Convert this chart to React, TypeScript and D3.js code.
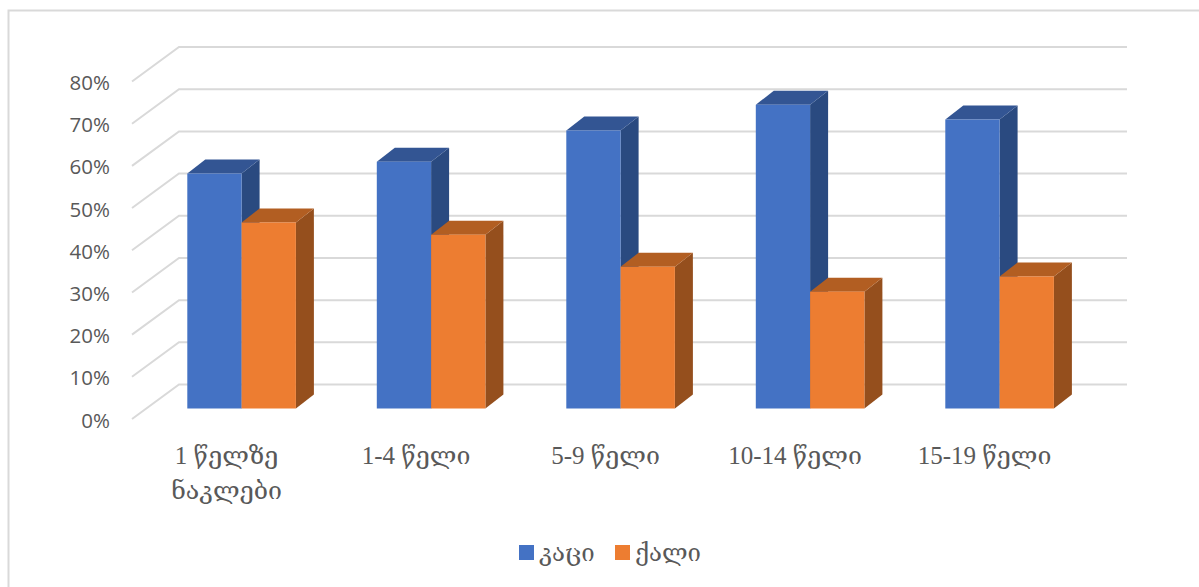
import React from "react";
import * as d3 from "d3";

const categories: string[][] = [["1 წელზე", "ნაკლები"], ["1-4 წელი"], ["5-9 წელი"], ["10-14 წელი"], ["15-19 წელი"]];
const seriesNames = ["კაცი", "ქალი"];
const men = [55.7, 58.5, 65.9, 72, 68.5];
const women = [44.1, 41.2, 33.6, 27.7, 31.3];
const ticks = [0, 10, 20, 30, 40, 50, 60, 70, 80];
const tickFormat = (d: number) => `${d}%`;

const W = 1199, H = 587;
const depthX = 18, depthY = 14;
const y = d3.scaleLinear().domain([0, 80]).range([408.5, 71]);
const x = d3.scaleBand<number>().domain(d3.range(5)).range([146.85, 1094.35]).paddingInner(0).paddingOuter(0);
const barW = 54.3;
const barLeft = (i: number) => (x(i) as number) + x.bandwidth() / 2 - barW;
const serif = "'Liberation Serif','DejaVu Serif',serif";
const sans = "'Open Sans',sans-serif";
const text = "#595959";
const grid = "#d9d9d9";

function Bar({ x0, v, front, top, side }: { x0: number; v: number; front: string; top: string; side: string }) {
  const y0 = y(0), y1 = y(v), x1 = x0 + barW;
  return (
    <g>
      <path d={`M${x1},${y1}L${x1 + depthX},${y1 - depthY}L${x1 + depthX},${y0 - depthY}L${x1},${y0}Z`} fill={side} />
      <path d={`M${x0},${y1}L${x0 + depthX},${y1 - depthY}L${x1 + depthX},${y1 - depthY}L${x1},${y1}Z`} fill={top} />
      <rect x={x0} y={y1} width={barW} height={y0 - y1} fill={front} />
    </g>
  );
}

export default function App() {
  return (
    <svg width={W} height={H} style={{ position: "absolute", left: 0, top: 0, background: "#fff" }}>
      <path d={`M8.5,${H}L8.5,10.5L${W},10.5`} fill="none" stroke={grid} strokeWidth={2} />
      {ticks.map((t) => {
        const yFront = y(t) + 10.5;
        const yBack = y(t) - depthY - 10;
        return (
          <g key={t}>
            <path d={`M132,${yFront}L179,${yBack}L1127,${yBack}`} fill="none" stroke={grid} strokeWidth={2} />
            <text x={110} y={yFront + 8.5} textAnchor="end" fontFamily={sans} fontSize={20.5} fill={text}>
              {tickFormat(t)}
            </text>
          </g>
        );
      })}
      {categories.map((c, i) => (
        <g key={i}>
          <Bar x0={barLeft(i)} v={men[i]} front="#4472c4" top="#335593" side="#2a4a80" />
          <Bar x0={barLeft(i) + barW} v={women[i]} front="#ed7d31" top="#b25e22" side="#954f1d" />
          {c.map((line, j) => (
            <text key={j} x={barLeft(i) + barW - 15} y={463.5 + j * 35} textAnchor="middle" fontFamily={serif} fontSize={25} fill={text}>
              {line}
            </text>
          ))}
        </g>
      ))}
      {seriesNames.map((s, i) => (
        <g key={s}>
          <rect x={519 + i * 96} y={545} width={15} height={15} fill={i === 0 ? "#4472c4" : "#ed7d31"} />
          <text x={539 + i * 96} y={561} fontFamily={serif} fontSize={24} fill={text}>
            {s}
          </text>
        </g>
      ))}
    </svg>
  );
}
